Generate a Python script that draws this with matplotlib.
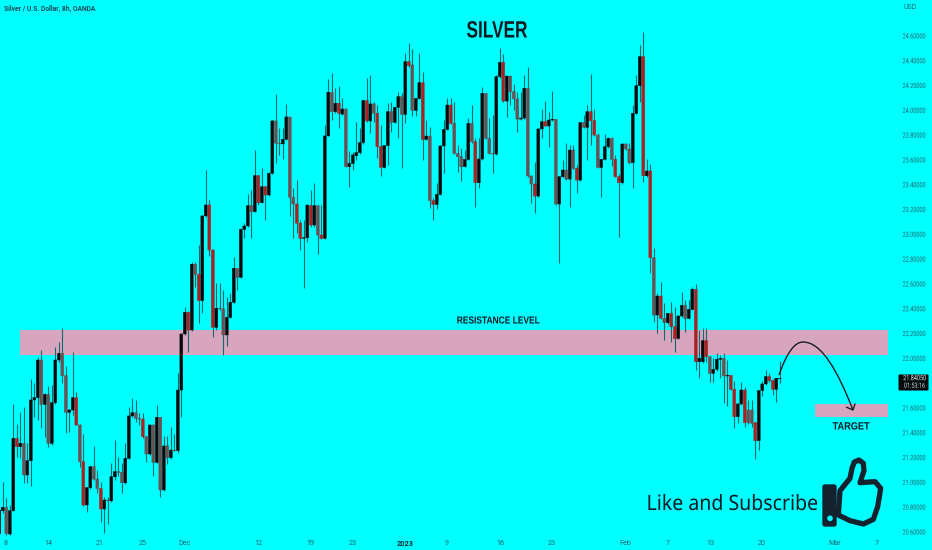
import matplotlib
matplotlib.use('Agg')
import numpy as np
import matplotlib.pyplot as plt
from matplotlib.patches import PathPatch, Circle, FancyBboxPatch
from matplotlib.patheffects import AbstractPathEffect
from matplotlib.path import Path
from matplotlib.transforms import Affine2D

# silver 8h candles
opens = [
    20.589, 20.772, 20.799, 20.584, 20.772, 21.355, 21.288, 21.315, 21.060, 21.175,
    21.665, 21.683, 21.987, 21.630, 21.710, 21.315, 21.643, 21.987, 22.041, 21.861,
    21.565, 21.584, 21.683, 21.463, 21.167, 20.818, 20.958, 21.127, 21.027, 20.952,
    20.786, 20.858, 20.852, 21.046, 21.087, 21.081, 20.998, 21.194, 21.536, 21.562,
    21.517, 21.511, 21.369, 21.229, 21.463, 21.162, 21.525, 20.939, 21.294, 21.200,
    21.261, 21.256, 21.745, 22.197, 22.372, 22.229, 22.759, 22.678, 22.466, 23.149,
    23.237, 22.874, 22.251, 22.404, 22.399, 22.189, 22.331, 22.452, 22.727, 22.654,
    23.041, 23.068, 23.232, 23.184, 23.474, 23.256, 23.385, 23.318, 23.493, 23.915,
    23.735, 23.730, 23.767, 23.947, 23.299, 23.245, 23.090, 22.968, 22.973, 23.232,
    23.076, 23.232, 22.995, 22.968, 23.794, 24.146, 23.990, 24.057, 23.970, 24.011,
    23.546, 23.573, 23.634, 23.659, 23.740, 24.079, 23.915, 24.052, 23.977, 23.708,
    23.541, 23.716, 23.990, 23.904, 24.025, 24.111, 23.968, 24.393, 24.366, 24.000,
    24.097, 24.223, 23.766, 23.793, 23.272, 23.242, 23.323, 23.713, 23.847, 24.043,
    23.895, 23.653, 23.626, 23.546, 23.605, 23.895, 23.747, 23.417, 23.608, 24.137,
    23.774, 23.653, 23.648, 24.272, 24.387, 24.075, 24.277, 24.151, 24.092, 23.930,
    23.938, 24.178, 23.471, 23.406, 23.309, 23.850, 23.909, 23.874, 23.922, 23.928,
    23.245, 23.465, 23.519, 23.446, 23.680, 23.532, 23.438, 23.901, 23.863, 23.989,
    23.917, 23.801, 23.540, 23.605, 23.707, 23.774, 23.605, 23.465, 23.417, 23.729,
    23.688, 23.578, 23.976, 24.199, 24.433, 23.473, 23.511, 22.812, 22.350, 22.503,
    22.323, 22.288, 22.363, 22.256, 22.161, 22.342, 22.428, 22.323, 22.395, 22.557,
    21.973, 21.974, 22.143, 22.014, 21.880, 21.912, 21.993, 22.001, 21.858, 21.864,
    21.751, 21.530, 21.633, 21.745, 21.584, 21.584, 21.482, 21.337, 21.740, 21.794,
    21.853, 21.821, 21.751, 21.840,
]
closes = [
    20.777, 20.799, 20.589, 20.772, 21.355, 21.288, 21.315, 21.060, 21.175, 21.665,
    21.683, 21.987, 21.630, 21.710, 21.315, 21.643, 21.987, 22.041, 21.861, 21.565,
    21.584, 21.683, 21.463, 21.167, 20.818, 20.958, 21.127, 21.027, 20.952, 20.786,
    20.858, 20.852, 21.046, 21.087, 21.081, 20.998, 21.194, 21.536, 21.562, 21.517,
    21.511, 21.369, 21.229, 21.463, 21.162, 21.525, 20.939, 21.294, 21.200, 21.261,
    21.256, 21.745, 22.197, 22.372, 22.229, 22.759, 22.678, 22.466, 23.149, 23.237,
    22.874, 22.251, 22.404, 22.399, 22.189, 22.331, 22.452, 22.727, 22.654, 23.041,
    23.068, 23.232, 23.184, 23.474, 23.256, 23.385, 23.318, 23.493, 23.915, 23.735,
    23.730, 23.767, 23.947, 23.299, 23.245, 23.090, 22.968, 22.973, 23.237, 23.076,
    23.232, 22.995, 22.968, 23.794, 24.146, 23.990, 24.057, 23.977, 24.011, 23.546,
    23.573, 23.641, 23.659, 23.740, 24.079, 23.915, 24.052, 23.977, 23.708, 23.541,
    23.716, 23.990, 23.904, 24.025, 24.111, 23.968, 24.393, 24.360, 24.000, 24.097,
    24.223, 23.766, 23.793, 23.272, 23.242, 23.323, 23.713, 23.847, 24.043, 23.895,
    23.653, 23.626, 23.546, 23.605, 23.895, 23.747, 23.417, 23.608, 24.137, 23.774,
    23.653, 23.648, 24.272, 24.387, 24.075, 24.277, 24.151, 24.092, 23.930, 23.938,
    24.178, 23.471, 23.406, 23.309, 23.850, 23.909, 23.874, 23.922, 23.928, 23.245,
    23.465, 23.519, 23.446, 23.680, 23.532, 23.438, 23.901, 23.863, 23.989, 23.917,
    23.801, 23.540, 23.605, 23.707, 23.774, 23.605, 23.465, 23.417, 23.729, 23.688,
    23.578, 23.976, 24.199, 24.433, 23.473, 23.511, 22.812, 22.350, 22.503, 22.323,
    22.288, 22.363, 22.256, 22.161, 22.342, 22.428, 22.323, 22.395, 22.557, 21.973,
    22.001, 22.143, 22.014, 21.880, 21.912, 21.993, 22.001, 21.858, 21.864, 21.751,
    21.530, 21.633, 21.745, 21.482, 21.482, 21.477, 21.337, 21.740, 21.794, 21.853,
    21.821, 21.751, 21.840, 21.8405,
]
highs = [
    20.79, 21.006, 20.872, 20.818, 21.630, 21.471, 21.570, 21.611, 21.315, 21.831,
    21.799, 22.009, 22.068, 21.72, 21.78, 21.785, 22.089, 22.135, 22.243, 21.939,
    21.59, 22.049, 21.732, 21.47, 21.390, 20.96, 21.13, 21.296, 21.100, 21.006,
    20.885, 20.885, 21.154, 21.342, 21.208, 21.154, 21.315, 21.605, 21.678, 21.665,
    21.557, 21.557, 21.375, 21.47, 21.47, 21.624, 21.53, 21.375, 21.375, 21.449,
    21.39, 21.880, 22.20, 22.412, 22.38, 22.780, 22.78, 22.915, 23.155, 23.520,
    23.278, 22.88, 22.606, 22.606, 22.552, 22.498, 22.530, 22.821, 22.73, 23.05,
    23.09, 23.326, 23.358, 23.681, 23.48, 23.538, 23.39, 23.50, 23.92, 24.132,
    23.856, 23.856, 24.049, 23.95, 23.372, 23.439, 23.116, 23.116, 23.24, 23.358,
    23.412, 23.24, 23.237, 23.882, 24.251, 24.299, 24.178, 24.197, 24.098, 24.02,
    23.675, 23.667, 23.909, 23.856, 24.08, 24.259, 24.286, 24.07, 24.044, 23.882,
    23.72, 24.057, 24.07, 24.03, 24.151, 24.138, 24.465, 24.546, 24.492, 24.10,
    24.460, 24.307, 23.922, 23.868, 23.29, 23.411, 23.72, 23.922, 24.097, 24.102,
    24.070, 23.721, 23.694, 23.680, 23.936, 24.043, 23.774, 23.774, 24.191, 24.14,
    23.936, 23.963, 24.285, 24.500, 24.452, 24.28, 24.28, 24.213, 24.145, 24.151,
    24.285, 24.347, 23.475, 23.586, 23.855, 24.008, 24.078, 23.989, 24.159, 23.93,
    23.47, 23.600, 23.739, 23.721, 23.721, 23.559, 23.905, 23.963, 24.043, 24.290,
    24.008, 23.815, 23.61, 23.809, 23.788, 23.788, 23.640, 23.49, 23.735, 23.74,
    23.734, 24.043, 24.285, 24.527, 24.635, 23.605, 23.565, 22.887, 22.524, 22.613,
    22.444, 22.37, 22.457, 22.417, 22.35, 22.532, 22.47, 22.47, 22.578, 22.600,
    22.229, 22.243, 22.243, 22.02, 22.001, 22.041, 22.028, 22.041, 21.99, 21.87,
    21.821, 21.64, 21.813, 21.772, 21.665, 21.665, 21.49, 21.745, 21.818, 21.907,
    21.88, 21.832, 21.845, 21.982,
]
lows = [
    20.58, 20.75, 20.576, 20.576, 20.77, 21.208, 21.20, 20.998, 20.998, 20.971,
    21.530, 21.503, 21.436, 21.369, 21.288, 21.30, 21.63, 21.974, 21.799, 21.396,
    21.409, 21.544, 21.46, 21.127, 20.81, 20.764, 20.95, 21.02, 20.912, 20.683,
    20.589, 20.665, 20.845, 21.02, 21.05, 20.912, 20.99, 21.19, 21.53, 21.490,
    21.463, 21.36, 21.167, 21.22, 21.054, 21.155, 20.880, 20.93, 21.148, 21.19,
    21.25, 21.235, 21.530, 22.19, 22.054, 22.22, 22.579, 22.283, 22.364, 23.14,
    22.829, 22.175, 22.229, 22.39, 22.028, 22.100, 22.325, 22.445, 22.552, 22.648,
    22.968, 23.06, 22.968, 23.18, 23.237, 23.25, 23.116, 23.31, 23.488, 23.573,
    23.641, 23.606, 23.76, 23.149, 22.968, 23.009, 22.874, 22.565, 22.942, 23.06,
    23.06, 22.839, 22.963, 22.96, 23.79, 23.923, 23.977, 23.856, 23.963, 23.54,
    23.385, 23.52, 23.60, 23.65, 23.73, 23.91, 23.821, 23.909, 23.614, 23.471,
    23.533, 23.560, 23.829, 23.896, 23.775, 23.532, 23.895, 24.35, 23.954, 23.954,
    24.09, 23.600, 23.76, 23.210, 23.116, 23.204, 23.318, 23.492, 23.84, 23.89,
    23.648, 23.506, 23.433, 23.54, 23.60, 23.74, 23.223, 23.371, 23.60, 23.77,
    23.648, 23.492, 23.64, 24.265, 24.07, 23.944, 24.043, 24.0, 23.828, 23.92,
    23.93, 23.465, 23.256, 23.170, 23.30, 23.774, 23.87, 23.707, 23.915, 23.24,
    22.766, 23.46, 23.44, 23.218, 23.527, 23.336, 23.43, 23.855, 23.600, 23.721,
    23.795, 23.535, 23.304, 23.60, 23.70, 23.551, 23.46, 22.981, 23.41, 23.68,
    23.57, 23.371, 23.97, 24.070, 23.425, 23.465, 22.691, 22.296, 22.202, 22.318,
    22.148, 22.28, 22.135, 22.054, 22.155, 22.335, 22.215, 22.318, 22.39, 21.907,
    21.840, 21.965, 21.974, 21.813, 21.813, 21.90, 21.840, 21.638, 21.62, 21.745,
    21.436, 21.477, 21.625, 21.444, 21.47, 21.45, 21.186, 21.262, 21.697, 21.785,
    21.81, 21.705, 21.651, 21.799,
]
# down candles that show up bright red instead of brown-grey
red_bars = [5, 22, 24, 29, 41, 54, 57, 60, 61, 74, 76, 85, 86, 89, 92, 97, 105, 108, 109,
            117, 121, 124, 129, 136, 144, 153, 156, 165, 169, 170, 176, 177, 184, 186,
            189, 192, 193, 199, 202, 209, 210, 213, 216, 220, 221]

# 21.80 sits behind the price tag in the original
price_ticks = [20.6, 20.8, 21.0, 21.2, 21.4, 21.6, 22.0, 22.2, 22.4, 22.6, 22.8, 23.0,
               23.2, 23.4, 23.6, 23.8, 24.0, 24.2, 24.4, 24.6]
date_labels = ['8', '14', '21', '25', 'Dec', '12', '19', '23', '2023', '9', '16', '23',
               'Feb', '7', '13', '20', 'Mar', '7']
date_bars = [1.9, 14.1, 28.8, 40.9, 52.9, 74.1, 88.9, 100.9, 115.9, 127.8, 143.1, 157.9,
             179.0, 190.9, 203.1, 217.9, 238.8, 250.8]

resistance = (22.027, 22.233)
target = (21.53, 21.63)

BG = '#00ffff'
BAR_W = 0.8
DARK = '#0d1a22'
AXIS_TXT = '#1c6670'


class Squeeze(AbstractPathEffect):
    # the original fonts are narrower than anything installed
    def __init__(self, sx):
        super().__init__()
        self.sx = sx

    def draw_path(self, renderer, gc, tpath, affine, rgbFace=None):
        ext = tpath.transformed(affine).get_extents()
        cx = (ext.x0 + ext.x1) / 2
        squeezed = affine + Affine2D().translate(-cx, 0).scale(self.sx, 1).translate(cx, 0)
        renderer.draw_path(gc, tpath, squeezed, rgbFace)


fig = plt.figure(figsize=(9.32, 5.5), dpi=100, facecolor=BG)
ax = fig.add_axes([0, 0, 1, 1], facecolor=BG)
ax.set_xlim(0.2, 266.5)
ax.set_ylim(20.455, 24.890)
for s in ax.spines.values():
    s.set_visible(False)

# pixel coordinates of the picture, for the hand drawn stuff
pix = Affine2D().scale(1 / 932, -1 / 550).translate(0, 1) + fig.transFigure

# zones
ax.fill_between([5.9, 253.9], *resistance, color='#d8a5bf', lw=0, zorder=1)
ax.fill_between([233.1, 253.9], *target, color='#d8a5bf', lw=0, zorder=1)

# candles
o = np.array(opens)
c = np.array(closes)
idx = np.arange(len(o))
ax.vlines(idx, lows, highs, color='#12686c', lw=0.8, zorder=2)
colors = []
for i in idx:
    if c[i] >= o[i]:
        colors.append('#05090c')
    elif i in red_bars:
        colors.append('#a82222')
    else:
        colors.append('#6b5052')
bars = ax.bar(idx, np.abs(c - o), bottom=np.minimum(o, c), width=BAR_W, color=colors,
              edgecolor=colors, linewidth=0.35, zorder=3)
for b in bars:
    b.set_snap(False)

# axis labels are inside the picture
ax.set_yticks(price_ticks)
ax.set_yticklabels([f'{p:.5f}' for p in price_ticks], family='Roboto', fontsize=5.2,
                   color=AXIS_TXT, ha='left')
ax.yaxis.tick_right()
ax.tick_params(axis='y', length=0, pad=-23.8, right=True)
for t in ax.get_yticklabels():
    t.set_path_effects([Squeeze(0.76)])
ax.set_xticks(date_bars)
ax.set_xticklabels(date_labels, family='Roboto', fontsize=5.2, color=AXIS_TXT)
ax.tick_params(axis='x', length=0, pad=-7, bottom=True)
ax.get_xticklabels()[8].set_fontweight('bold')
ax.get_xticklabels()[8].set_color('#0c2a33')

ax.text(3.5, 9, 'Silver / U.S. Dollar, 8h, OANDA', transform=pix, fontsize=4.9, family='Roboto',
        fontweight='bold', color='#0f4a58', va='center', ha='left')
ax.text(903, 7.5, 'USD', transform=pix, fontsize=5.0, family='Roboto', color=AXIS_TXT, va='center')

title = ax.text(497, 31, 'SILVER', transform=pix, fontsize=17, family='Liberation Sans',
                fontweight='bold', color=DARK, ha='center', va='center')
title.set_path_effects([Squeeze(0.73)])
res = ax.text(498, 320.5, 'RESISTANCE LEVEL', transform=pix, fontsize=7.3, family='Liberation Sans',
              fontweight='bold', color=DARK, ha='center', va='center')
res.set_path_effects([Squeeze(0.83)])
tgt = ax.text(851, 426.5, 'TARGET', transform=pix, fontsize=7.6, family='Liberation Sans',
              fontweight='bold', color=DARK, ha='center', va='center')
tgt.set_path_effects([Squeeze(0.87)])
sub = ax.text(732, 504.5, 'Like and Subscribe', transform=pix, fontsize=15.2, family='Noto Sans',
              color=DARK, ha='center', va='center')
sub.set_path_effects([Squeeze(0.925)])

# price tag
ax.add_patch(FancyBboxPatch((898.5, 374.5), 30, 16, boxstyle='round,pad=0,rounding_size=1', transform=pix,
                            fc='#050a0c', ec='none', zorder=5))
tag1 = ax.text(914.5, 378.7, '21.84050', transform=pix, fontsize=5.2, family='Roboto', color='#e6eeee',
               ha='center', va='center', zorder=6)
tag2 = ax.text(914.5, 386.3, '01:53:16', transform=pix, fontsize=5.2, family='Roboto', color='#c8d4d4',
               ha='center', va='center', zorder=6)
tag1.set_path_effects([Squeeze(0.76)])
tag2.set_path_effects([Squeeze(0.76)])

# projected move
curve = Path([(779, 375), (787, 352), (795, 342), (803, 342), (822, 342), (838, 372), (853, 410)],
             [Path.MOVETO] + [Path.CURVE4] * 6)
ax.add_patch(PathPatch(curve, transform=pix, fc='none', ec='#10181c', lw=0.95, zorder=6))
ax.plot([846.7, 853, 855], [407.3, 410, 404], transform=pix, color='#10181c', lw=0.95, zorder=6)

# thumbs up icon
ICON = '#14222e'


def icon_pt(x, y):
    return (810 + x / 3, 450 + y / 3)


thumb = [(90, 122), (120, 85), (126, 55), (133, 36), (147, 30), (160, 40), (162, 62), (150, 98),
         (195, 95), (212, 115), (208, 140), (203, 170), (190, 208), (160, 222), (120, 212), (85, 195)]
thumb_path = Path([icon_pt(*p) for p in thumb] + [icon_pt(*thumb[0])],
                  [Path.MOVETO] + [Path.LINETO] * (len(thumb) - 1) + [Path.CLOSEPOLY])
ax.add_patch(PathPatch(thumb_path, transform=pix, fc=BG, ec=ICON, lw=3.8, joinstyle='round', zorder=6))
cx, cy = icon_pt(37, 103)
ax.add_patch(FancyBboxPatch((cx, cy), 43 / 3, 127 / 3, boxstyle='round,pad=0,rounding_size=2.5', transform=pix,
                            fc=ICON, ec='none', zorder=7))
ax.add_patch(Circle(icon_pt(60, 205), 2.8, transform=pix, fc=BG, ec='none', zorder=8))

fig.savefig('out.png', dpi=100, facecolor=BG)
